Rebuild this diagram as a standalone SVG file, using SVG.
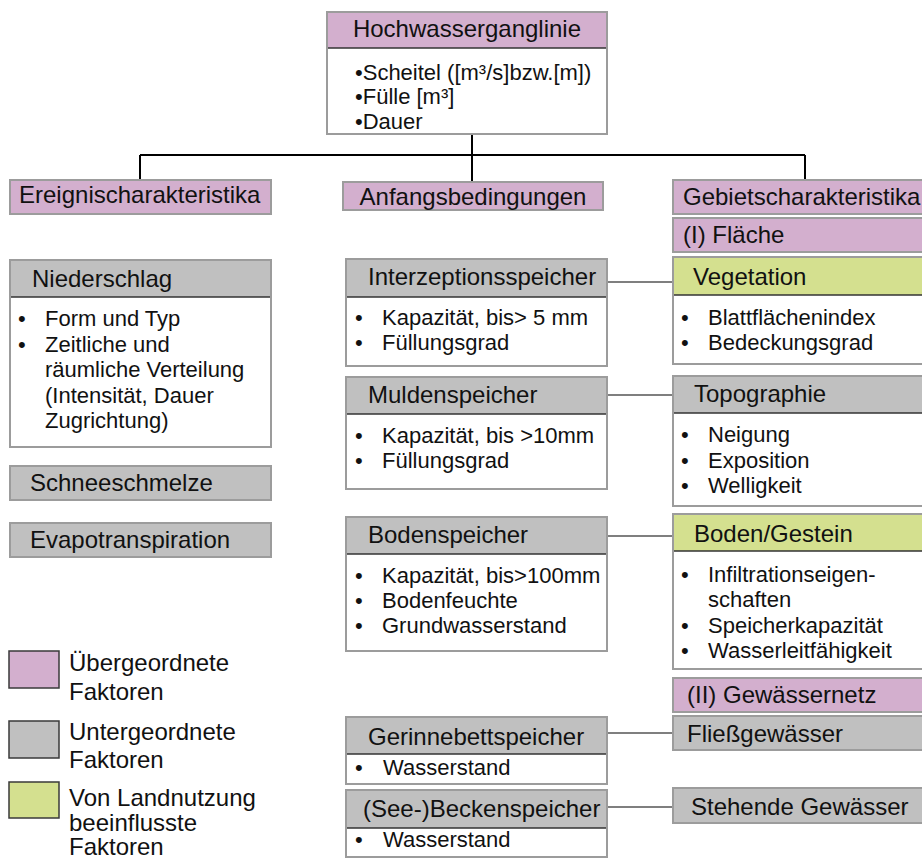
<svg xmlns="http://www.w3.org/2000/svg" width="922" height="859" viewBox="0 0 922 859">
<style>
text{font-family:"Liberation Sans",Arial,sans-serif;fill:#111}
.h{font-size:24px}
.t{font-size:22px}
.pink{fill:#D3AFCE}
.gray{fill:#C0C0C0}
.green{fill:#D4E08F}
.body{fill:#FFFFFF}
.frame{fill:none;stroke:#9C9C9C;stroke-width:2}
.sep{stroke:#333;stroke-width:1.5}
.leg{stroke:#3A3A3A;stroke-width:1.5}
.main{stroke:#000;stroke-width:2;fill:none}
.side{stroke:#000;stroke-width:1.2;fill:none}
</style>
<rect width="922" height="859" fill="#FFFFFF"/>
<g id="connectors">
<path class="main" d="M472 134V182M140 155H805M140 155V180M805 155V180"/>
<path class="side" d="M607 282H673M607 395H673M607 536H673M607 733H673M607 807H673"/>
</g>
<g id="hochwasserganglinie">
<rect class="body" x="327" y="12" width="280" height="122"/>
<rect class="pink" x="327" y="12" width="280" height="36"/>
<line class="sep" x1="327" y1="48" x2="607" y2="48"/>
<rect class="frame" x="327" y="12" width="280" height="122"/>
<text class="h" x="467" y="37" text-anchor="middle">Hochwasserganglinie</text>
<text class="t" x="355" y="80">•Scheitel ([m³/s]bzw.[m])</text>
<text class="t" x="355" y="104">•Fülle [m³]</text>
<text class="t" x="355" y="129">•Dauer</text>
</g>
<g id="ereignischarakteristika">
<rect class="pink" x="10" y="180" width="261" height="34"/>
<rect class="frame" x="10" y="180" width="261" height="34"/>
<text class="h" x="19" y="203">Ereignischarakteristika</text>
</g>
<g id="anfangsbedingungen">
<rect class="pink" x="343" y="182" width="260" height="28"/>
<rect class="frame" x="343" y="182" width="260" height="28"/>
<text class="h" x="473" y="205" text-anchor="middle">Anfangsbedingungen</text>
</g>
<g id="gebietscharakteristika">
<rect class="pink" x="673" y="180" width="260" height="34"/>
<rect class="frame" x="673" y="180" width="260" height="34"/>
<text class="h" x="683" y="205">Gebietscharakteristika</text>
</g>
<g id="flaeche">
<rect class="pink" x="673" y="218" width="260" height="34"/>
<rect class="frame" x="673" y="218" width="260" height="34"/>
<text class="h" x="683" y="243">(I) Fläche</text>
</g>
<g id="niederschlag">
<rect class="body" x="10" y="260" width="261" height="187"/>
<rect class="gray" x="10" y="260" width="261" height="37"/>
<line class="sep" x1="10" y1="297" x2="271" y2="297"/>
<rect class="frame" x="10" y="260" width="261" height="187"/>
<text class="h" x="32" y="287">Niederschlag</text>
<text class="t" x="18" y="326">•</text><text class="t" x="45" y="326">Form und Typ</text>
<text class="t" x="18" y="351.5">•</text><text class="t" x="45" y="351.5">Zeitliche und</text>
<text class="t" x="45" y="377">räumliche Verteilung</text>
<text class="t" x="45" y="402.5">(Intensität, Dauer</text>
<text class="t" x="45" y="428">Zugrichtung)</text>
</g>
<g id="schneeschmelze">
<rect class="gray" x="10" y="466" width="261" height="34"/>
<rect class="frame" x="10" y="466" width="261" height="34"/>
<text class="h" x="30" y="491">Schneeschmelze</text>
</g>
<g id="evapotranspiration">
<rect class="gray" x="10" y="523" width="261" height="34"/>
<rect class="frame" x="10" y="523" width="261" height="34"/>
<text class="h" x="30" y="548">Evapotranspiration</text>
</g>
<g id="interzeptionsspeicher">
<rect class="body" x="346" y="259" width="261" height="107"/>
<rect class="gray" x="346" y="259" width="261" height="38"/>
<line class="sep" x1="346" y1="297" x2="607" y2="297"/>
<rect class="frame" x="346" y="259" width="261" height="107"/>
<text class="h" x="368" y="285">Interzeptionsspeicher</text>
<text class="t" x="355" y="325">•</text><text class="t" x="382" y="325">Kapazität, bis&gt; 5 mm</text>
<text class="t" x="355" y="350">•</text><text class="t" x="382" y="350">Füllungsgrad</text>
</g>
<g id="muldenspeicher">
<rect class="body" x="346" y="377" width="261" height="112"/>
<rect class="gray" x="346" y="377" width="261" height="37"/>
<line class="sep" x1="346" y1="414" x2="607" y2="414"/>
<rect class="frame" x="346" y="377" width="261" height="112"/>
<text class="h" x="368" y="403">Muldenspeicher</text>
<text class="t" x="355" y="443">•</text><text class="t" x="382" y="443">Kapazität, bis &gt;10mm</text>
<text class="t" x="355" y="468">•</text><text class="t" x="382" y="468">Füllungsgrad</text>
</g>
<g id="bodenspeicher">
<rect class="body" x="346" y="517" width="261" height="134"/>
<rect class="gray" x="346" y="517" width="261" height="37"/>
<line class="sep" x1="346" y1="554" x2="607" y2="554"/>
<rect class="frame" x="346" y="517" width="261" height="134"/>
<text class="h" x="368" y="543">Bodenspeicher</text>
<text class="t" x="355" y="583">•</text><text class="t" x="382" y="583">Kapazität, bis&gt;100mm</text>
<text class="t" x="355" y="608">•</text><text class="t" x="382" y="608">Bodenfeuchte</text>
<text class="t" x="355" y="633">•</text><text class="t" x="382" y="633">Grundwasserstand</text>
</g>
<g id="gerinnebettspeicher">
<rect class="body" x="346" y="717" width="261" height="67"/>
<rect class="gray" x="346" y="717" width="261" height="37"/>
<line class="sep" x1="346" y1="754" x2="607" y2="754"/>
<rect class="frame" x="346" y="717" width="261" height="67"/>
<text class="h" x="368" y="745">Gerinnebettspeicher</text>
<text class="t" x="355" y="775">•</text><text class="t" x="383" y="775">Wasserstand</text>
</g>
<g id="beckenspeicher">
<rect class="body" x="346" y="790" width="261" height="67"/>
<rect class="gray" x="346" y="790" width="261" height="38"/>
<line class="sep" x1="346" y1="828" x2="607" y2="828"/>
<rect class="frame" x="346" y="790" width="261" height="67"/>
<text class="h" x="363" y="817">(See-)Beckenspeicher</text>
<text class="t" x="355" y="847">•</text><text class="t" x="383" y="847">Wasserstand</text>
</g>
<g id="vegetation">
<rect class="body" x="673" y="257" width="260" height="107"/>
<rect class="green" x="673" y="257" width="260" height="38"/>
<line class="sep" x1="673" y1="295" x2="933" y2="295"/>
<rect class="frame" x="673" y="257" width="260" height="107"/>
<text class="h" x="693" y="285">Vegetation</text>
<text class="t" x="681" y="325">•</text><text class="t" x="708" y="325">Blattflächenindex</text>
<text class="t" x="681" y="350">•</text><text class="t" x="708" y="350">Bedeckungsgrad</text>
</g>
<g id="topographie">
<rect class="body" x="673" y="376" width="260" height="130"/>
<rect class="gray" x="673" y="376" width="260" height="37"/>
<line class="sep" x1="673" y1="413" x2="933" y2="413"/>
<rect class="frame" x="673" y="376" width="260" height="130"/>
<text class="h" x="694" y="402">Topographie</text>
<text class="t" x="681" y="442">•</text><text class="t" x="708" y="442">Neigung</text>
<text class="t" x="681" y="468">•</text><text class="t" x="708" y="468">Exposition</text>
<text class="t" x="681" y="493">•</text><text class="t" x="708" y="493">Welligkeit</text>
</g>
<g id="boden-gestein">
<rect class="body" x="673" y="514" width="260" height="155"/>
<rect class="green" x="673" y="514" width="260" height="37"/>
<line class="sep" x1="673" y1="551" x2="933" y2="551"/>
<rect class="frame" x="673" y="514" width="260" height="155"/>
<text class="h" x="694" y="542">Boden/Gestein</text>
<text class="t" x="681" y="582">•</text><text class="t" x="708" y="582">Infiltrationseigen-</text>
<text class="t" x="708" y="607">schaften</text>
<text class="t" x="681" y="633">•</text><text class="t" x="708" y="633">Speicherkapazität</text>
<text class="t" x="681" y="658">•</text><text class="t" x="708" y="658">Wasserleitfähigkeit</text>
</g>
<g id="gewaessernetz">
<rect class="pink" x="673" y="678" width="260" height="34"/>
<rect class="frame" x="673" y="678" width="260" height="34"/>
<text class="h" x="687" y="703">(II) Gewässernetz</text>
</g>
<g id="fliessgewaesser">
<rect class="gray" x="673" y="716" width="260" height="34"/>
<rect class="frame" x="673" y="716" width="260" height="34"/>
<text class="h" x="687" y="742">Fließgewässer</text>
</g>
<g id="stehende-gewaesser">
<rect class="gray" x="673" y="788" width="260" height="35"/>
<rect class="frame" x="673" y="788" width="260" height="35"/>
<text class="h" x="691" y="815">Stehende Gewässer</text>
</g>
<g id="legend">
<rect class="pink leg" x="9" y="651" width="50" height="37"/>
<rect class="gray leg" x="9" y="721" width="50" height="37"/>
<rect class="green leg" x="9" y="782" width="50" height="36"/>
<text class="h" x="69" y="671">Übergeordnete</text>
<text class="h" x="69" y="700">Faktoren</text>
<text class="h" x="69" y="740">Untergeordnete</text>
<text class="h" x="69" y="768">Faktoren</text>
<text class="h" x="69" y="806">Von Landnutzung</text>
<text class="h" x="69" y="831">beeinflusste</text>
<text class="h" x="69" y="855">Faktoren</text>
</g>
</svg>
